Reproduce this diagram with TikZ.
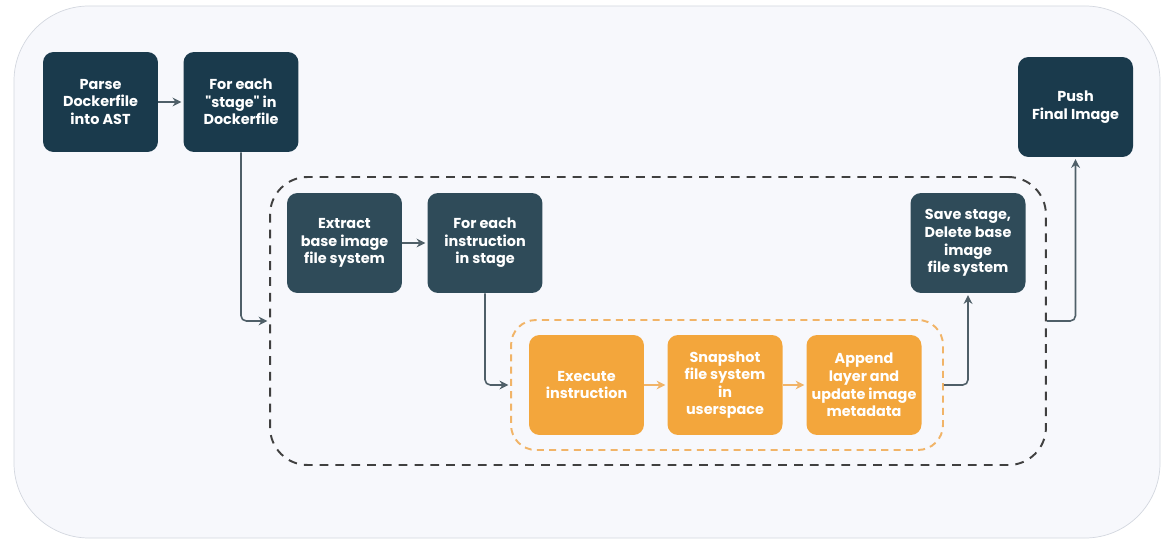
\documentclass[tikz,border=0pt]{standalone}
\usepackage{fontspec}
\setmainfont{Poppins}[Ligatures=TeXOff]
\usetikzlibrary{arrows.meta}
\definecolor{navy}{HTML}{1A3A4C}
\definecolor{slate}{HTML}{2F4B59}
\definecolor{amber}{HTML}{F3A63C}
\definecolor{amberline}{HTML}{F1B468}
\definecolor{flowgray}{HTML}{4F5F68}
\definecolor{panelfill}{HTML}{F7F8FC}
\definecolor{panelline}{HTML}{D3D7DF}
\tikzset{
  stepbox/.style={rounded corners=6pt, minimum width=2.3cm, minimum height=2cm,
    align=center, text=white, font=\bfseries\fontsize{8.2}{10}\selectfont, inner sep=2pt},
  navybox/.style={stepbox, fill=navy},
  slatebox/.style={stepbox, fill=slate},
  amberbox/.style={stepbox, fill=amber},
  flow/.style={draw=flowgray, line width=0.9pt, rounded corners=3pt,
    -{Stealth[length=5pt,width=5pt]}, shorten >=1pt},
  amberflow/.style={flow, draw=amberline},
}
\begin{document}
\begin{tikzpicture}[x=0.02cm,y=-0.02cm]
    \useasboundingbox (0,0) rectangle (1172,550);
    %% background panel
    \draw[panelline, fill=panelfill, rounded corners=1.5cm] (14,6) rectangle (1160,538);
    %% frames
    \node[draw=black!75, dash pattern=on 5pt off 4pt, line width=1.1pt,
      rounded corners=0.75cm, minimum width=15.52cm, minimum height=5.76cm] (stageframe) at (658,321) {};
    \node[draw=amberline, dash pattern=on 4pt off 3pt, line width=1.1pt,
      rounded corners=0.5cm, minimum width=8.64cm, minimum height=2.6cm] (instrframe) at (727,385) {};
    %% top row
    \node[navybox] (parse) at (100.5,102) {Parse\\Dockerfile\\into AST};
    \node[navybox] (stage) at (241,102) {For each\\"stage" in\\Dockerfile};
    \node[navybox] (push) at (1075.5,107) {Push\\Final Image};
    %% stage row
    \node[slatebox] (extract) at (344.5,243) {Extract\\base image\\file system};
    \node[slatebox] (instr) at (485,243) {For each\\instruction\\in stage};
    \node[slatebox] (save) at (968,243) {Save stage,\\Delete base\\image\\file system};
    %% instruction row
    \node[amberbox] (exec) at (586.5,385) {Execute\\instruction};
    \node[amberbox] (snap) at (725,385) {Snapshot\\file system\\in\\userspace};
    \node[amberbox] (append) at (864,385) {Append\\layer and\\update image\\metadata};
    %% connectors
    \draw[flow] (parse) -- (stage);
    \draw[flow] (stage.south) |- (stageframe.west);
    \draw[flow] (extract) -- (instr);
    \draw[flow] (instr.south) |- (instrframe.west);
    \draw[amberflow] (exec) -- (snap);
    \draw[amberflow] (snap) -- (append);
    \draw[flow] (instrframe.east) -| (save.south);
    \draw[flow] (stageframe.east) -| (push.south);
\end{tikzpicture}
\end{document}
